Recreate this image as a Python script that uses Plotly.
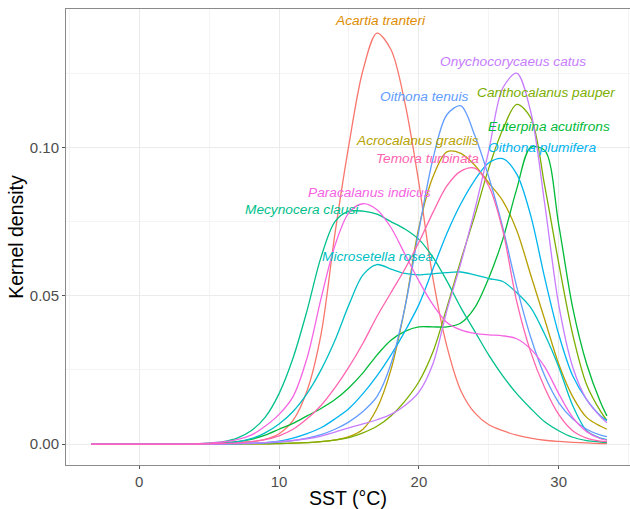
import plotly.graph_objects as go

# SST grid (°C) at which the kernel densities were read
SST = [-3.45, -2, 0, 2, 4, 5, 6, 7, 8, 9, 10, 11, 12, 13, 14, 15, 16, 17, 18, 19,
       20, 21, 22, 23, 24, 25, 26, 27, 28, 29, 30, 31, 32, 33, 33.45]

SPECIES = ["Acartia tranteri", "Acrocalanus gracilis", "Canthocalanus pauper",
           "Euterpina acutifrons", "Mecynocera clausi", "Microsetella rosea",
           "Oithona plumifera", "Oithona tenuis", "Onychocorycaeus catus",
           "Paracalanus indicus", "Temora turbinata"]

acartia = [0, 0, 0, 0, 0, 0.0001, 0.0002, 0.0004, 0.0008, 0.0016, 0.0035, 0.008, 0.018, 0.037, 0.071,
           0.101, 0.126, 0.1385, 0.133, 0.115, 0.088, 0.056, 0.033, 0.018, 0.0105, 0.0065, 0.0045,
           0.003, 0.002, 0.0013, 0.0009, 0.0006, 0.0004, 0.0002, 0.0002]
acrocalanus = [0, 0, 0, 0, 0, 0, 0, 0, 0.0001, 0.0001, 0.0002, 0.0003, 0.0005, 0.0008, 0.0014, 0.0025,
               0.005, 0.012, 0.025, 0.046, 0.073, 0.09, 0.0985, 0.098, 0.094, 0.088, 0.082, 0.072,
               0.057, 0.042, 0.027, 0.016, 0.009, 0.006, 0.005]
canthocalanus = [0, 0, 0, 0, 0, 0, 0, 0, 0.0001, 0.0001, 0.0002, 0.0003, 0.0005, 0.0008, 0.0013, 0.0022,
                 0.0038, 0.006, 0.0095, 0.0145, 0.021, 0.031, 0.046, 0.062, 0.077, 0.093, 0.106,
                 0.1145, 0.11, 0.087, 0.061, 0.037, 0.02, 0.011, 0.008]
euterpina = [0, 0, 0, 0, 0.0001, 0.0002, 0.0004, 0.0008, 0.0016, 0.003, 0.005, 0.007, 0.0095, 0.012,
             0.015, 0.019, 0.024, 0.03, 0.035, 0.038, 0.0395, 0.0395, 0.0395, 0.0408, 0.046, 0.056,
             0.069, 0.086, 0.1, 0.099, 0.074, 0.046, 0.027, 0.014, 0.0095]
mecynocera = [0, 0, 0, 0, 0.0001, 0.0003, 0.0008, 0.002, 0.0045, 0.009, 0.017, 0.029, 0.045, 0.063,
              0.075, 0.0785, 0.0785, 0.0775, 0.075, 0.0725, 0.069, 0.063, 0.055, 0.046, 0.038, 0.03,
              0.023, 0.017, 0.012, 0.0075, 0.0045, 0.0023, 0.0012, 0.0007, 0.0005]
microsetella = [0, 0, 0, 0, 0, 0.0001, 0.0003, 0.0007, 0.0018, 0.0038, 0.0068, 0.011, 0.017, 0.025,
                0.035, 0.047, 0.057, 0.0605, 0.059, 0.0575, 0.057, 0.0574, 0.0578, 0.058, 0.057,
                0.0558, 0.0548, 0.051, 0.046, 0.037, 0.026, 0.013, 0.0045, 0.002, 0.0015]
o_plumifera = [0, 0, 0, 0, 0, 0, 0.0001, 0.0002, 0.0003, 0.0005, 0.001, 0.002, 0.0035, 0.0055, 0.0085,
               0.012, 0.017, 0.023, 0.03, 0.038, 0.047, 0.059, 0.071, 0.081, 0.089, 0.0948, 0.0962,
               0.091, 0.077, 0.056, 0.037, 0.023, 0.015, 0.0095, 0.008]
o_tenuis = [0, 0, 0, 0, 0, 0, 0, 0.0001, 0.0002, 0.0004, 0.0007, 0.0012, 0.002, 0.0032, 0.005, 0.0075,
            0.011, 0.016, 0.027, 0.046, 0.072, 0.096, 0.111, 0.114, 0.104, 0.09, 0.073, 0.053, 0.036,
            0.023, 0.014, 0.0085, 0.005, 0.003, 0.0025]
onychocorycaeus = [0, 0, 0, 0, 0, 0, 0.0001, 0.0002, 0.0003, 0.0005, 0.0008, 0.0012, 0.0018, 0.0027,
                   0.004, 0.0055, 0.0068, 0.0082, 0.01, 0.013, 0.0175, 0.027, 0.045, 0.061, 0.079,
                   0.099, 0.12, 0.125, 0.112, 0.081, 0.047, 0.026, 0.015, 0.0092, 0.0072]
paracalanus = [0, 0, 0, 0, 0.0001, 0.0003, 0.0007, 0.0015, 0.003, 0.006, 0.01, 0.016, 0.029, 0.049,
               0.067, 0.078, 0.081, 0.079, 0.073, 0.064, 0.055, 0.047, 0.041, 0.0385, 0.0373, 0.0368,
               0.0365, 0.0355, 0.032, 0.026, 0.017, 0.009, 0.0042, 0.0018, 0.0013]
temora = [0, 0, 0, 0, 0, 0.0001, 0.0002, 0.0004, 0.0008, 0.0015, 0.0028, 0.005, 0.0085, 0.013, 0.019,
          0.026, 0.034, 0.043, 0.051, 0.059, 0.068, 0.078, 0.087, 0.092, 0.093, 0.087, 0.072, 0.048,
          0.031, 0.019, 0.01, 0.0045, 0.002, 0.001, 0.0008]

DENSITIES = [acartia, acrocalanus, canthocalanus, euterpina, mecynocera, microsetella,
             o_plumifera, o_tenuis, onychocorycaeus, paracalanus, temora]

LINE_COLORS = ["#F8766D", "#B79F00", "#7CAE00", "#00BA38", "#00C08B", "#00BFC4",
               "#00B4F0", "#619CFF", "#C77CFF", "#F564E3", "#FF64B0"]
LABEL_COLORS = ["#DE8C00", "#B79F00", "#7CAE00", "#00BA38", "#00C08B", "#00BFC4",
                "#00B4F0", "#619CFF", "#C77CFF", "#F564E3", "#FF64B0"]

# label anchor positions (SST, density)
LABEL_X = [17.27, 19.9, 29.1, 29.3, 11.64, 17.04, 28.8, 20.4, 26.75, 16.45, 20.6]
LABEL_Y = [0.1426, 0.1022, 0.1185, 0.107, 0.079, 0.0633, 0.1001, 0.1173, 0.129, 0.0848, 0.0963]

fig = go.Figure()
for name, dens, col in zip(SPECIES, DENSITIES, LINE_COLORS):
    fig.add_trace(go.Scatter(x=SST, y=dens, mode="lines", name=name,
                             line=dict(color=col, width=1.3, shape="spline", smoothing=0.9),
                             showlegend=False))

for name, lx, ly, col in zip(SPECIES, LABEL_X, LABEL_Y, LABEL_COLORS):
    fig.add_annotation(x=lx, y=ly, text="<i>" + name + "</i>", showarrow=False,
                       font=dict(family="Liberation Sans, Arial, sans-serif", size=13.7, color=col),
                       xanchor="center", yanchor="middle")

grid_major = "#EBEBEB"
grid_minor = "#F4F4F4"
fig.update_layout(
    width=630, height=509,
    margin=dict(l=66, r=0, t=9, b=42),
    paper_bgcolor="white", plot_bgcolor="white",
    font=dict(family="Liberation Sans, Arial, sans-serif"),
    xaxis=dict(range=[-5.24, 35.1], tickvals=[0, 10, 20, 30], ticks="outside", ticklen=3,
               tickcolor="#555555", tickfont=dict(size=15, color="#4D4D4D"),
               showgrid=True, gridcolor=grid_major, gridwidth=1, zeroline=False,
               minor=dict(tickvals=[-5, 5, 15, 25, 35], showgrid=True, gridcolor=grid_minor, gridwidth=1, ticks=""),
               showline=True, linecolor="#8A8A8A", linewidth=1, mirror=True,
               title=dict(text="SST (°C)", font=dict(size=19.5, color="black"), standoff=5)),
    yaxis=dict(range=[-0.00705, 0.14664], tickvals=[0, 0.05, 0.10], tickformat=".2f",
               ticks="outside", ticklen=3, tickcolor="#555555",
               tickfont=dict(size=15, color="#4D4D4D"),
               showgrid=True, gridcolor=grid_major, gridwidth=1, zeroline=False,
               minor=dict(tickvals=[0.025, 0.075, 0.125], showgrid=True, gridcolor=grid_minor, gridwidth=1, ticks=""),
               showline=True, linecolor="#8A8A8A", linewidth=1, mirror=False,
               title=dict(text="Kernel density", font=dict(size=19.5, color="black"), standoff=0)),
)

fig.write_html("out.html")
